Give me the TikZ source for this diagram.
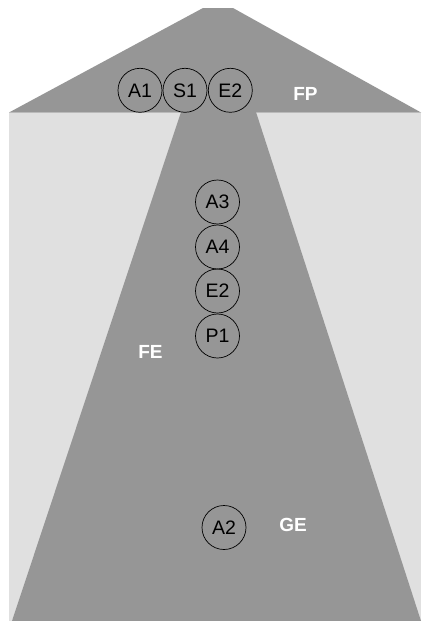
\documentclass[tikz,border=0pt]{standalone}
\usepackage{fontspec}
\setmainfont{Liberation Sans}
\definecolor{darkg}{RGB}{150,150,150}
\definecolor{lightg}{RGB}{224,224,224}
\tikzset{
  ball/.style={circle,draw=black,line width=0.7pt,minimum size=44pt,inner sep=0pt,font=\fontsize{19.5}{19.5}\selectfont},
  zone/.style={text=white,font=\fontsize{19}{19}\selectfont\bfseries,inner sep=0pt}
}
\begin{document}
\begin{tikzpicture}[x=1pt,y=-1pt]
\useasboundingbox (0,0) rectangle (421,621);
\fill[white] (0,0) rectangle (421,621);
% light background
\fill[lightg] (9,112.5) rectangle (421,621);
% roof
\fill[darkg] (9,112.5) -- (203,8) -- (233,8) -- (421,112.5) -- cycle;
% road
\fill[darkg] (181,112) -- (256,112) -- (421,621) -- (12,621) -- cycle;
% circles
\node[ball] (a1) at (140,90.3) {A1};
\node[ball] (s1) at (185,90.3) {S1};
\node[ball] (e2a) at (230.3,90.3) {E2};
\node[ball] (a3) at (217.5,202) {A3};
\node[ball] (a4) at (217.5,247) {A4};
\node[ball] (e2b) at (217.5,291) {E2};
\node[ball] (p1) at (217.5,336) {P1};
\node[ball] (a2) at (224,527.5) {A2};
% labels
\node[zone] (fp) at (305.5,93.5) {FP};
\node[zone] (fe) at (150.5,351.5) {FE};
\node[zone] (ge) at (293,524.5) {GE};
\end{tikzpicture}
\end{document}
